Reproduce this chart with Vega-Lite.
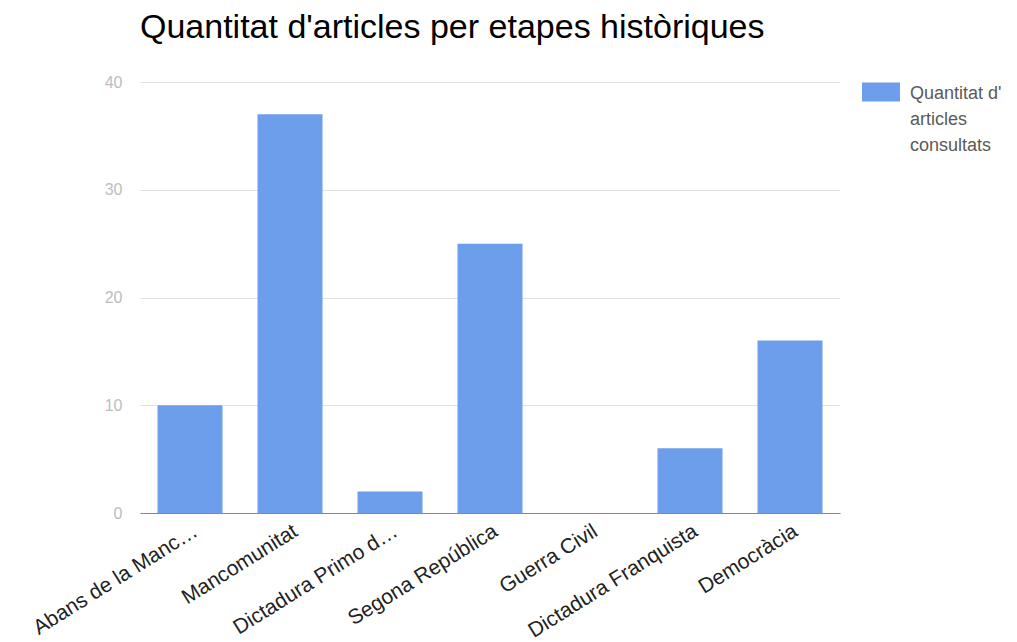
{
  "$schema": "https://vega.github.io/schema/vega-lite/v6.json",
  "autosize": "none",
  "width": 700,
  "height": 431,
  "padding": {"left": 140, "top": 82, "right": 177, "bottom": 129},
  "background": "white",
  "title": {
    "text": "Quantitat d'articles per etapes històriques",
    "anchor": "start",
    "frame": "group",
    "font": "Liberation Sans",
    "fontSize": 34,
    "fontWeight": "normal",
    "color": "#000000",
    "baseline": "alphabetic",
    "offset": 1
  },
  "data": {
    "values": [
      {"etapa": "Abans de la Manc…", "articles": 10, "serie": "Quantitat d' articles consultats"},
      {"etapa": "Mancomunitat", "articles": 37, "serie": "Quantitat d' articles consultats"},
      {"etapa": "Dictadura Primo d…", "articles": 2, "serie": "Quantitat d' articles consultats"},
      {"etapa": "Segona República", "articles": 25, "serie": "Quantitat d' articles consultats"},
      {"etapa": "Guerra Civil", "articles": 0, "serie": "Quantitat d' articles consultats"},
      {"etapa": "Dictadura Franquista", "articles": 6, "serie": "Quantitat d' articles consultats"},
      {"etapa": "Democràcia", "articles": 16, "serie": "Quantitat d' articles consultats"}
    ]
  },
  "mark": {"type": "bar"},
  "encoding": {
    "x": {
      "field": "etapa",
      "type": "nominal",
      "sort": null,
      "scale": {"paddingInner": 0.35, "paddingOuter": 0.175},
      "axis": {
        "title": null,
        "labelAngle": -32,
        "labelFont": "Liberation Sans",
        "labelFontSize": 21,
        "labelColor": "#222222",
        "labelPadding": 7,
        "labelLimit": 400,
        "ticks": false,
        "domainColor": "#888888",
        "domainWidth": 1,
        "grid": false
      }
    },
    "y": {
      "field": "articles",
      "type": "quantitative",
      "scale": {"domain": [0, 40]},
      "axis": {
        "title": null,
        "values": [0, 10, 20, 30, 40],
        "labelFont": "Liberation Sans",
        "labelFontSize": 16,
        "labelColor": "#bdbdbd",
        "labelPadding": 18,
        "ticks": false,
        "domain": false,
        "grid": true,
        "gridColor": "#e0e0e0",
        "gridWidth": 1
      }
    },
    "color": {
      "field": "serie",
      "type": "nominal",
      "scale": {"range": ["#6d9eeb"]},
      "legend": {
        "title": null,
        "orient": "none",
        "legendX": 722,
        "legendY": -9,
        "symbolType": "M-1,-0.5H1V0.5H-1Z",
        "symbolSize": 1444,
        "symbolStrokeWidth": 0,
        "symbolOpacity": 1,
        "labelFont": "Liberation Sans",
        "labelFontSize": 18,
        "labelColor": "#5a5a5a",
        "labelOffset": 10,
        "labelLimit": 200,
        "labelBaseline": "top",
        "labelExpr": "['Quantitat d\\'', 'articles', 'consultats']",
        "encode": {"labels": {"update": {"lineHeight": {"value": 26}, "dy": {"value": -7}}}}
      }
    }
  },
  "config": {"view": {"stroke": null}}
}
